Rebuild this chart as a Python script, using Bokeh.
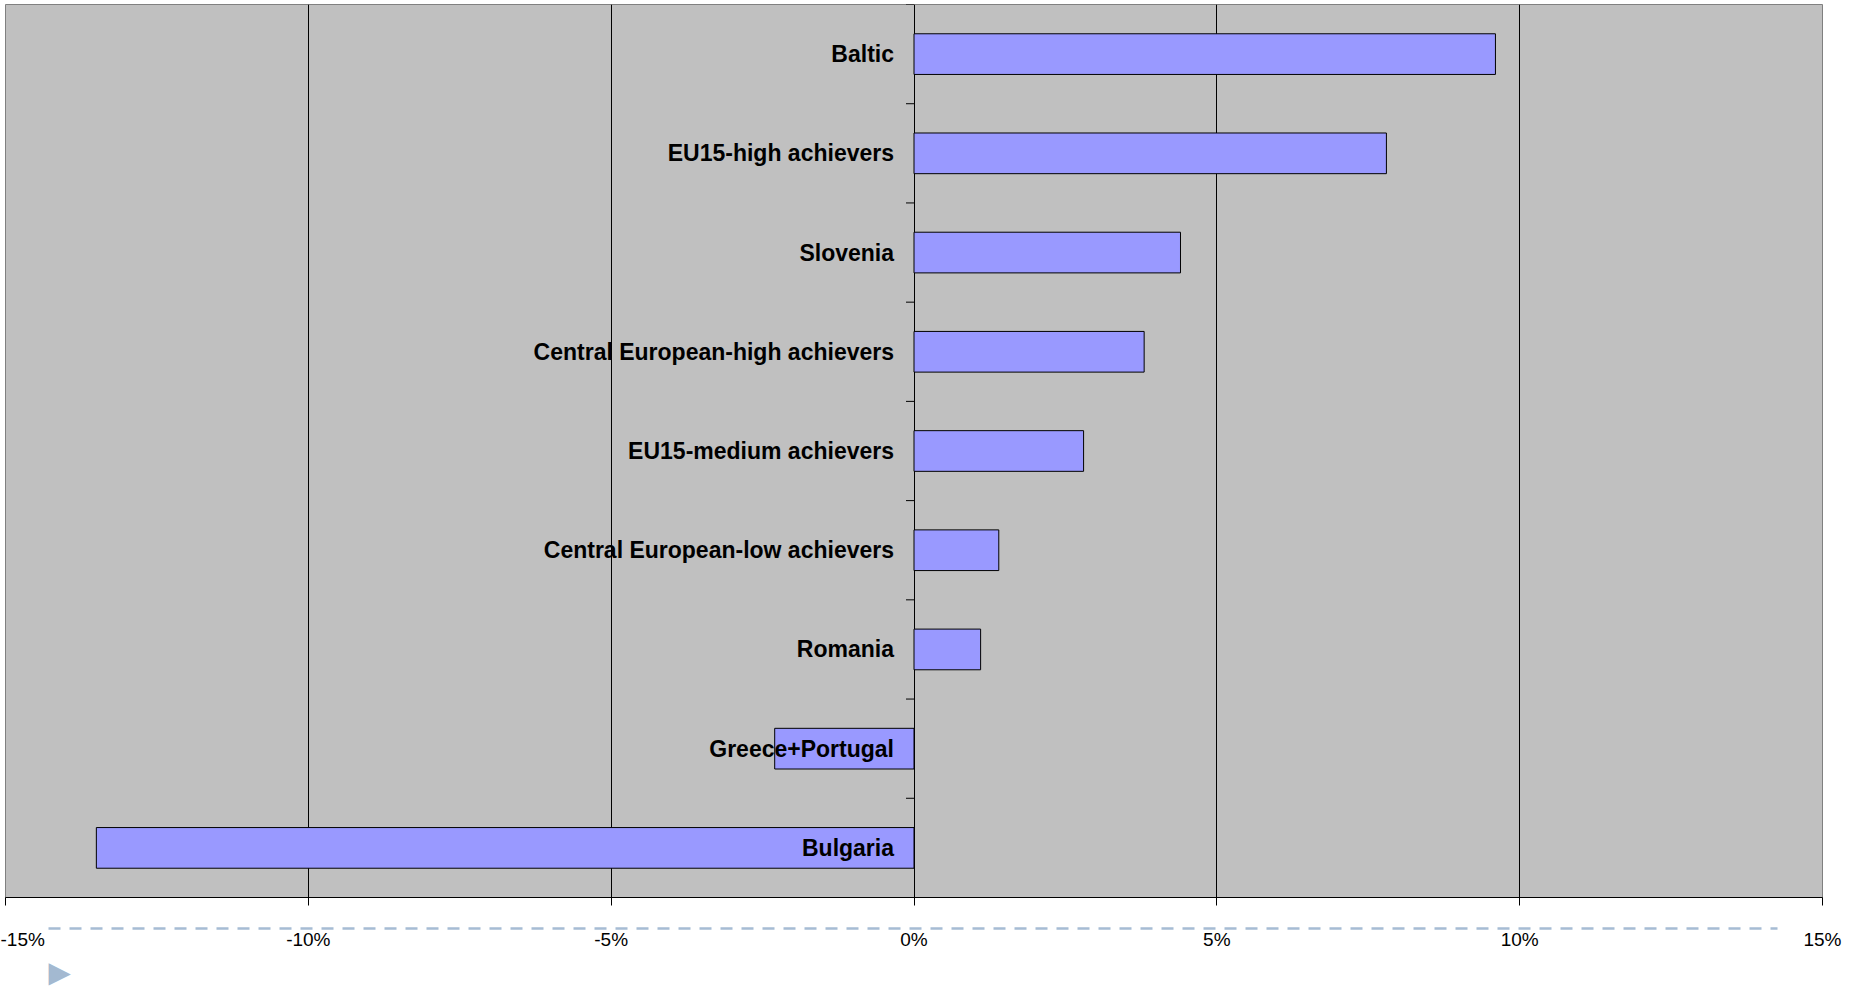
from bokeh.plotting import figure
from bokeh.models import (Range1d, FixedTicker, PrintfTickFormatter,
                          LinearAxis, Title, ColumnDataSource)
from bokeh.core.properties import value
from bokeh.embed import file_html
from bokeh.resources import INLINE

# ---- data (top to bottom as in the chart) ----
categories = ["Baltic", "EU15-high achievers", "Slovenia",
              "Central European-high achievers", "EU15-medium achievers",
              "Central European-low achievers", "Romania", "Greece+Portugal",
              "Bulgaria"]
values = [9.6, 7.8, 4.4, 3.8, 2.8, 1.4, 1.1, -2.3, -13.5]
x_ticks = [-15, -10, -5, 0, 5, 10, 15]

W, H = 1848, 988
B_LEFT, B_TOP, B_RIGHT, B_BOTTOM = 5, 4, 26, 86
frame_w = W - B_LEFT - B_RIGHT
frame_h = H - B_TOP - B_BOTTOM
n = len(categories)
xpx = frame_w / (x_ticks[-1] - x_ticks[0])   # pixels per x unit

# category slot centres, first category at the top
pos = [n - 0.5 - i for i in range(n)]

p = figure(width=W, height=H, output_backend="svg", toolbar_location=None,
           y_range=Range1d(0, n),
           x_range=Range1d(x_ticks[0], x_ticks[-1]),
           y_axis_location=None,
           min_border_left=B_LEFT, min_border_right=B_RIGHT,
           min_border_top=B_TOP, min_border_bottom=B_BOTTOM)

p.background_fill_color = "#c0c0c0"
p.border_fill_color = "white"
p.outline_line_color = "#808080"
p.outline_line_width = 1

p.xgrid.ticker = FixedTicker(ticks=x_ticks[1:-1])
p.xgrid.grid_line_color = "black"
p.xgrid.grid_line_width = 1
p.ygrid.visible = False

# axis A: black axis line with outward ticks (labels are shown by axis C)
ax = p.xaxis[0]
ax.ticker = FixedTicker(ticks=x_ticks)
ax.formatter = PrintfTickFormatter(format="%d%%")
ax.major_tick_out = 8
ax.major_tick_in = 0
ax.minor_tick_out = 0
ax.minor_tick_in = 0
ax.axis_line_color = "black"
ax.axis_line_width = 1
ax.major_tick_line_color = "black"
ax.major_label_text_color = None
ax.major_label_standoff = 0

# blank spacer so the dashed rule sits a little below the tick marks
p.add_layout(Title(text="\u00a0", standoff=0, text_font="Liberation Sans",
                   text_font_size="19px", text_color="white"), "below")

# axis B: the dashed light-blue rule under the chart
x_a = x_ticks[0] + 43 / xpx
x_b = x_ticks[0] + 1772 / xpx
rule = LinearAxis(ticker=FixedTicker(ticks=[]), bounds=(x_a, x_b),
                  axis_line_color="#a6bcd4", axis_line_width=2.5,
                  axis_line_dash="12 9", major_tick_out=0, major_tick_in=0,
                  minor_tick_out=0, minor_tick_in=0,
                  major_label_text_color=None, major_label_standoff=0)
p.add_layout(rule, "below")

# axis C: the percent tick labels
lab = LinearAxis(ticker=FixedTicker(ticks=x_ticks),
                 formatter=PrintfTickFormatter(format="%d%%"),
                 axis_line_color=None, major_tick_line_color=None,
                 major_tick_out=0, major_tick_in=0,
                 minor_tick_out=0, minor_tick_in=0,
                 major_label_text_font="Liberation Sans",
                 major_label_text_font_size="19px",
                 major_label_text_color="black", major_label_standoff=0)
p.add_layout(lab, "below")

# small triangle marker at the bottom left
p.add_layout(Title(text="\u25B6", align="left", offset=43, standoff=0,
                   text_font="DejaVu Sans", text_font_size="29px",
                   text_font_style="normal", text_color="#a3b9d1"), "below")

src = ColumnDataSource(dict(cat=categories, val=values, pos=pos))

# category-boundary tick marks on the vertical axis at x = 0
bounds = list(range(n + 1))
tick_len = 8 / xpx
p.segment(x0=[-tick_len] * len(bounds), x1=[0] * len(bounds),
          y0=bounds, y1=bounds, line_color="black", line_width=1)

p.hbar(y="pos", left=0, right="val", height=0.41, source=src,
       fill_color="#9999ff", line_color="black", line_width=1)

p.text(x=0, y="pos", text="cat", source=src, x_offset=-20,
       text_align="right", text_baseline="middle",
       text_font=value("Liberation Sans"), text_font_style="bold",
       text_font_size="23px", text_color="black")

open("out.html", "w").write(file_html(p, INLINE))
